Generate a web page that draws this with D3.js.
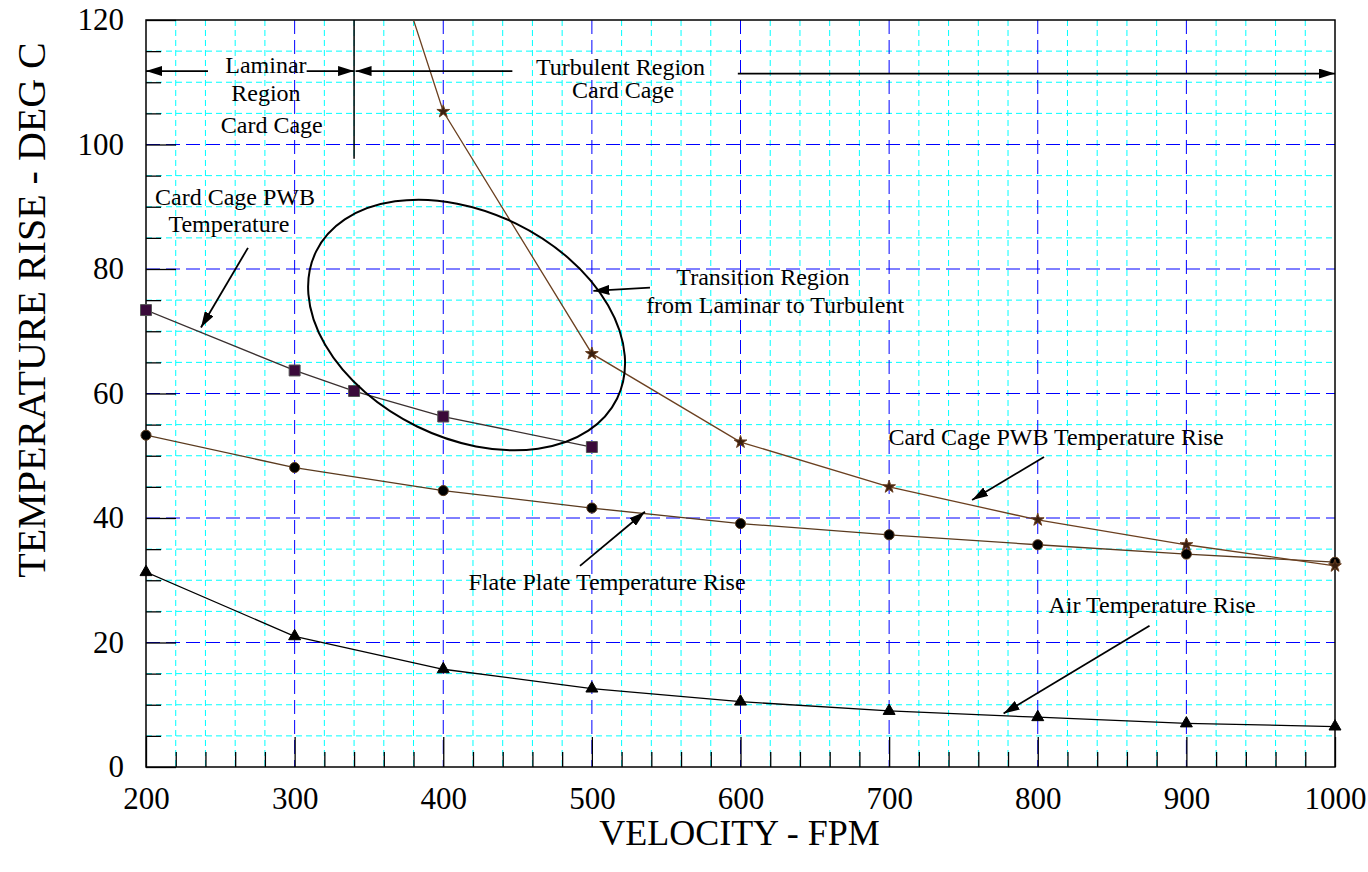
<!DOCTYPE html>
<html>
<head>
<meta charset="utf-8">
<script src="https://cdn.jsdelivr.net/npm/d3@7"></script>
<style>
  body { margin: 0; background: #fff; }
  text { font-family: "Liberation Serif", "Times New Roman", serif; fill: #000; }
</style>
</head>
<body>
<div id="chart"></div>
<script>
// velocities (FPM) and temperature rises (deg C)
const velocity = [200, 300, 400, 500, 600, 700, 800, 900, 1000];
const laminarX = [200, 300, 340, 400, 500];
const laminarPWB = [73.4, 63.7, 60.4, 56.3, 51.4];
const turbulentX = [300, 400, 500, 600, 700, 800, 900, 1000];
const turbulentPWB = [178.8, 105.3, 66.4, 52.2, 45.0, 39.7, 35.7, 32.3];
const flatPlate = [53.3, 48.1, 44.4, 41.6, 39.1, 37.3, 35.7, 34.2, 32.9];
const airRise = [31.3, 21.0, 15.7, 12.6, 10.5, 9.0, 8.0, 7.0, 6.5];

const xTicks = [200, 300, 400, 500, 600, 700, 800, 900, 1000];
const yTicks = [0, 20, 40, 60, 80, 100, 120];

// annotation text, in data units
const notes = [
  {x: 280.7, y: 111.5, t: "Laminar"},
  {x: 280.7, y: 107.0, t: "Region"},
  {x: 284.6, y: 101.9, t: "Card Cage"},
  {x: 519.3, y: 111.2, t: "Turbulent Region"},
  {x: 521.0, y: 107.4, t: "Card Cage"},
  {x: 259.9, y: 90.3, t: "Card Cage PWB"},
  {x: 255.8, y: 85.9, t: "Temperature"},
  {x: 615.1, y: 77.4, t: "Transition Region"},
  {x: 623.3, y: 72.9, t: "from Laminar to Turbulent"},
  {x: 812.3, y: 51.7, t: "Card Cage PWB Temperature Rise"},
  {x: 510.2, y: 28.4, t: "Flate Plate Temperature Rise"},
  {x: 876.9, y: 24.7, t: "Air Temperature Rise"}
];
const arrows = [
  {x1: 241.7, y1: 111.8, x2: 200, y2: 111.8},
  {x1: 308.1, y1: 111.8, x2: 340, y2: 111.8},
  {x1: 446.5, y1: 111.8, x2: 341, y2: 111.8},
  {x1: 598.2, y1: 111.4, x2: 1000, y2: 111.4},
  {x1: 268.6, y1: 83.4, x2: 237.0, y2: 70.6},
  {x1: 539.1, y1: 77.0, x2: 501.0, y2: 76.5},
  {x1: 804.2, y1: 49.8, x2: 755.8, y2: 42.9},
  {x1: 492.0, y1: 32.3, x2: 535.7, y2: 41.0},
  {x1: 875.2, y1: 22.7, x2: 777.0, y2: 8.6}
];

const width = 1368, height = 872;
const margin = {top: 20, right: 33, bottom: 105, left: 146};
const w = width - margin.left - margin.right;
const h = height - margin.top - margin.bottom;

const svg = d3.select("#chart").append("svg")
  .attr("width", width)
  .attr("height", height);

const defs = svg.append("defs");
defs.append("clipPath").attr("id", "plot-clip")
  .append("rect").attr("width", w).attr("height", h);
defs.append("marker")
  .attr("id", "head")
  .attr("markerUnits", "userSpaceOnUse")
  .attr("viewBox", "0 0 16 10")
  .attr("refX", 16).attr("refY", 5)
  .attr("markerWidth", 16).attr("markerHeight", 10)
  .attr("orient", "auto")
  .append("path").attr("d", "M0,0L16,5L0,10Z").attr("fill", "#000");

const g = svg.append("g").attr("transform", `translate(${margin.left},${margin.top})`);

const x = d3.scaleLinear().domain([200, 1000]).range([0, w]);
const y = d3.scaleLinear().domain([0, 120]).range([h, 0]);

const minorX = d3.range(220, 1000, 20).filter(v => v % 100);
const minorY = d3.range(5, 120, 5).filter(v => v % 20);

// minor grid
g.append("g").selectAll("line").data(minorX)
  .join("line")
  .attr("x1", d => x(d)).attr("x2", d => x(d)).attr("y1", 0).attr("y2", h)
  .attr("stroke", "#00ffff").attr("stroke-dasharray", "6,4");
g.append("g").selectAll("line").data(minorY)
  .join("line")
  .attr("y1", d => y(d)).attr("y2", d => y(d)).attr("x1", 0).attr("x2", w)
  .attr("stroke", "#00ffff").attr("stroke-dasharray", "6,4");

// major grid
g.append("g").selectAll("line").data(xTicks.slice(1, -1))
  .join("line")
  .attr("x1", d => x(d)).attr("x2", d => x(d)).attr("y1", 0).attr("y2", h)
  .attr("stroke", "#0000ff").attr("stroke-dasharray", "14,6");
g.append("g").selectAll("line").data(yTicks.slice(1, -1))
  .join("line")
  .attr("y1", d => y(d)).attr("y2", d => y(d)).attr("x1", 0).attr("x2", w)
  .attr("stroke", "#0000ff").attr("stroke-dasharray", "14,6");

// inward ticks
g.append("g").attr("transform", `translate(0,${h})`)
  .call(d3.axisBottom(x).tickValues(minorX).tickSize(-15).tickFormat(""))
  .call(a => a.select(".domain").remove());
g.append("g").attr("transform", `translate(0,${h})`)
  .call(d3.axisBottom(x).tickValues(xTicks).tickSize(-30).tickPadding(20).tickFormat(d3.format("d")))
  .call(a => a.select(".domain").remove())
  .call(a => a.selectAll("text").attr("font-size", 31).attr("font-family", "Liberation Serif").attr("fill", "#000"));
g.append("g")
  .call(d3.axisLeft(y).tickValues(minorY).tickSize(-15).tickFormat(""))
  .call(a => a.select(".domain").remove());
g.append("g")
  .call(d3.axisLeft(y).tickValues(yTicks).tickSize(-30).tickPadding(22).tickFormat(d3.format("d")))
  .call(a => a.select(".domain").remove())
  .call(a => a.selectAll("text").attr("font-size", 31).attr("font-family", "Liberation Serif").attr("fill", "#000"));
g.selectAll(".tick line").attr("stroke", "#000").attr("stroke-width", 1.3);

// frame
g.append("rect").attr("width", w).attr("height", h)
  .attr("fill", "none").attr("stroke", "#000").attr("stroke-width", 1.5);

// region divider at 340 FPM
g.append("line")
  .attr("x1", x(340)).attr("x2", x(340)).attr("y1", y(120)).attr("y2", y(97.7))
  .attr("stroke", "#000").attr("stroke-width", 1.5);

// series
const line = d3.line().x(d => x(d[0])).y(d => y(d[1]));
const plot = g.append("g").attr("clip-path", "url(#plot-clip)");

function series(xs, ys, stroke, symbol, size, fill, outline) {
  const pts = xs.map((v, i) => [v, ys[i]]);
  plot.append("path").datum(pts)
    .attr("d", line).attr("fill", "none").attr("stroke", stroke).attr("stroke-width", 1.3);
  g.append("g").selectAll("path").data(pts.filter(d => d[1] <= 120)).join("path")
    .attr("transform", d => `translate(${x(d[0])},${y(d[1])})`)
    .attr("d", d3.symbol().type(symbol).size(size))
    .attr("fill", fill).attr("stroke", outline).attr("stroke-width", 1);
}
series(velocity, airRise, "#000", d3.symbolTriangle, 62, "#000", "#000");
series(velocity, flatPlate, "#5a3a1e", d3.symbolCircle, 80, "#000", "#5a3a1e");
series(turbulentX, turbulentPWB, "#6b4020", d3.symbolStar, 50, "#3a2010", "#6b4020");
series(laminarX, laminarPWB, "#3a3030", d3.symbolSquare, 120, "#3a0a3a", "#555");

// transition region ellipse
g.append("ellipse")
  .attr("transform", `translate(${x(415.7)},${y(71.0)}) rotate(26)`)
  .attr("rx", 167.5).attr("ry", 112.9)
  .attr("fill", "none").attr("stroke", "#000").attr("stroke-width", 2);

// arrows
g.append("g").selectAll("line").data(arrows).join("line")
  .attr("x1", d => x(d.x1)).attr("y1", d => y(d.y1))
  .attr("x2", d => x(d.x2)).attr("y2", d => y(d.y2))
  .attr("stroke", "#000").attr("stroke-width", 1.8)
  .attr("marker-end", "url(#head)");

// annotation text
g.append("g").selectAll("text").data(notes).join("text")
  .attr("x", d => x(d.x)).attr("y", d => y(d.y))
  .attr("text-anchor", "middle").attr("font-size", 24)
  .text(d => d.t);

// axis titles
svg.append("text")
  .attr("x", margin.left + w / 2 - 1).attr("y", 845)
  .attr("text-anchor", "middle").attr("font-size", 36)
  .text("VELOCITY - FPM");
svg.append("text")
  .attr("transform", `translate(45,${margin.top + 290}) rotate(-90)`)
  .attr("text-anchor", "middle").attr("font-size", 40)
  .text("TEMPERATURE RISE - DEG C");
</script>
</body>
</html>
